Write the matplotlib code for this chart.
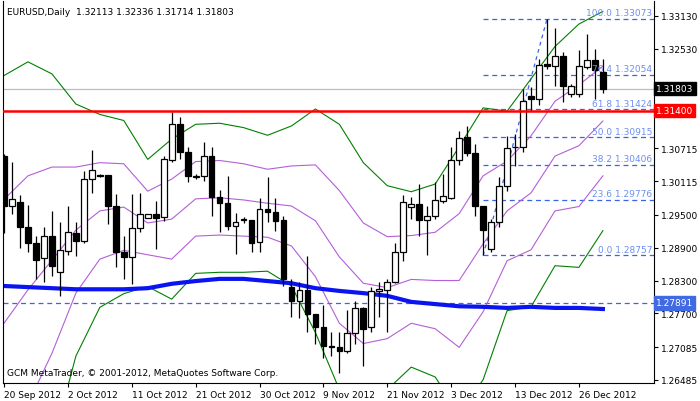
import matplotlib
matplotlib.use("Agg")
import matplotlib.pyplot as plt
import matplotlib.transforms as mtransforms
import numpy as np

# daily OHLC, 20 Sep 2012 .. 31 Dec 2012
opens  = [1.3057,1.2966,1.2973,1.2928,1.2898,1.2871,1.2911,1.2846,1.2884,1.2917,
          1.2902,1.3015,1.3023,1.3023,1.2966,1.2882,1.2873,1.2926,1.2944,1.2951,
          1.2946,1.3050,1.3116,1.3065,1.3019,1.3021,1.3057,1.2983,1.2972,1.2930,
          1.2941,1.2941,1.2900,1.2961,1.2955,1.2941,1.2818,1.2793,1.2813,1.2769,
          1.2745,1.2710,1.2709,1.2701,1.2734,1.2780,1.2745,1.2811,1.2813,1.2827,
          1.2882,1.2964,1.2970,1.2941,1.2948,1.2975,1.2981,1.3050,1.3092,1.3063,
          1.2966,1.2888,1.2937,1.3003,1.3074,1.3074,1.3167,1.3161,1.3225,1.3222,
          1.3240,1.3171,1.3171,1.3220,1.3233,1.32113]
highs  = [1.3061,1.3046,1.2986,1.2968,1.2911,1.2928,1.2957,1.2937,1.2966,1.2937,
          1.3030,1.3068,1.3024,1.3023,1.2988,1.2911,1.2988,1.2990,1.2951,1.2975,
          1.3057,1.3138,1.3129,1.3074,1.3024,1.3083,1.3074,1.2995,1.3021,1.2953,
          1.2946,1.2941,1.2981,1.3019,1.2981,1.2948,1.2833,1.2827,1.2875,1.2769,
          1.2785,1.2736,1.2736,1.2776,1.2793,1.2782,1.2818,1.2827,1.2833,1.2898,
          1.2986,1.2983,1.3006,1.2966,1.3010,1.3024,1.3074,1.3103,1.3112,1.3079,
          1.2966,1.2942,1.3019,1.3094,1.3098,1.3180,1.3183,1.3234,1.3307,1.3291,
          1.3247,1.3189,1.3251,1.3280,1.3253,1.32336]
lows   = [1.2917,1.2951,1.2889,1.2882,1.2833,1.2827,1.2838,1.2802,1.2877,1.2875,
          1.2898,1.2990,1.3019,1.2933,1.2855,1.2833,1.2824,1.2919,1.2944,1.2888,
          1.2939,1.3046,1.3052,1.3010,1.3015,1.3012,1.2948,1.2919,1.2922,1.2878,
          1.2935,1.2882,1.2882,1.2937,1.2920,1.2820,1.2763,1.2761,1.2736,1.2714,
          1.2689,1.2692,1.2661,1.2698,1.2714,1.2674,1.2736,1.2763,1.2736,1.2825,
          1.2866,1.2942,1.2911,1.2877,1.2942,1.2972,1.2979,1.3041,1.3057,1.2948,
          1.2877,1.2882,1.2928,1.2993,1.3039,1.3065,1.3140,1.3150,1.3216,1.3185,
          1.3156,1.3165,1.3165,1.3216,1.3161,1.31714]
closes = [1.2966,1.2979,1.2928,1.2898,1.2867,1.2911,1.2856,1.2886,1.2919,1.2902,
          1.3015,1.3032,1.3021,1.2966,1.2882,1.2873,1.2926,1.2951,1.2951,1.2944,
          1.3052,1.3116,1.3065,1.3021,1.3019,1.3057,1.2983,1.2972,1.2930,1.2937,
          1.2941,1.2898,1.2961,1.2955,1.2939,1.2833,1.2793,1.2813,1.2769,1.2745,
          1.2710,1.2709,1.2701,1.2734,1.2780,1.2741,1.2811,1.2814,1.2827,1.2882,
          1.2973,1.2970,1.2941,1.2948,1.2977,1.2984,1.3050,1.3090,1.3063,1.2966,
          1.2922,1.2937,1.3003,1.3072,1.3073,1.3158,1.3161,1.3224,1.3222,1.3240,
          1.3185,1.3185,1.3222,1.3233,1.3214,1.31803]

# indicator lines read every 3 bars
line_idx = list(range(0, 76, 3))
bb_mid = [1.2752,1.2813,1.2867,1.2922,1.2957,1.2964,1.2935,1.2942,1.2979,1.2981,
          1.2977,1.2971,1.2966,1.2939,1.2873,1.2825,1.2817,1.2832,1.2830,1.2830,
          1.2897,1.2957,1.2990,1.3057,1.3076,1.3121]
bb_dev = [0.0226,0.0208,0.0170,0.0115,0.0088,0.0079,0.0058,0.0073,0.0068,0.0068,
          0.0066,0.0062,0.0073,0.0102,0.0121,0.0110,0.0093,0.0080,0.0088,0.0122,
          0.0124,0.0091,0.0104,0.0100,0.0111,0.0100]
ma_slow = [1.2820,1.2818,1.2816,1.2814,1.2814,1.2814,1.2816,1.2824,1.2829,1.2833,
           1.2833,1.2829,1.2825,1.2816,1.2811,1.2807,1.2802,1.2791,1.2787,1.2783,
           1.2782,1.2780,1.2782,1.2780,1.2780,1.2778]

date_labels = ["20 Sep 2012","2 Oct 2012","11 Oct 2012","21 Oct 2012","30 Oct 2012",
               "9 Nov 2012","21 Nov 2012","3 Dec 2012","13 Dec 2012","26 Dec 2012"]
price_ticks = [1.33130,1.32530,1.30715,1.30115,1.29500,1.28900,
               1.28300,1.27700,1.27085,1.26485]
fib_pct = ["0.0","23.6","38.2","50.0","61.8","76.4","100.0"]
fib_val = [1.28757,1.29776,1.30406,1.30915,1.31424,1.32054,1.33073]

FS = 6.5
blue = "#3c64e6"
fig = plt.figure(figsize=(7, 4.02), dpi=100)
ax = fig.add_axes([3/700, 18/402, 651/700, 382/402])
n = len(opens)
x = np.arange(n)
o = np.array(opens); c = np.array(closes)

ax.vlines(x, lows, highs, color="black", lw=0.9, zorder=3)
up = c >= o
body = np.abs(c - o)
body = np.where(body < 0.00012, 0.00012, body)
ax.bar(x[up], body[up], bottom=o[up], width=0.72, color="white",
       edgecolor="black", lw=0.9, zorder=4)
ax.bar(x[~up], body[~up], bottom=c[~up], width=0.72, color="black",
       edgecolor="black", lw=0.9, zorder=4)

mid = np.array(bb_mid); dev = np.array(bb_dev)
ax.plot(line_idx, mid + 2*dev, color="green", lw=0.8, zorder=2)
ax.plot(line_idx, mid - 2*dev, color="green", lw=0.8, zorder=2)
for k in (-1, 0, 1):
    ax.plot(line_idx, mid + k*dev, color="#b45fd8", lw=0.8, zorder=2)
ax.plot(line_idx, ma_slow, color="#0a14f0", lw=3, zorder=2)

ax.axhline(1.31400, color="red", lw=1.8, zorder=5)
ax.axhline(1.31803, color="#bdbdbd", lw=0.9, zorder=1)
ax.axhline(1.27891, color=blue, lw=0.9, ls=(0, (4, 3)), zorder=1)

x0, x1 = -0.125, 81.4
for p, v in zip(fib_pct, fib_val):
    ax.hlines(v, 60, x1, color=blue, lw=0.9, ls=(0, (4, 3)), zorder=1)
    ax.text(x1 - 0.2, v + 0.0003, f"{p} {v:.5f}", color="#6d8ff0", fontsize=FS,
            ha="right", va="bottom", zorder=6)
ax.plot([60, 68], [fib_val[0], fib_val[-1]], color=blue, lw=0.9, ls=(0, (3, 3)), zorder=1)

ax.set_xlim(x0, x1)
ax.set_ylim(1.2643, 1.3340)
ax.yaxis.tick_right()
ax.set_yticks(price_ticks)
ax.set_yticklabels([f"{v:.5f}" for v in price_ticks], fontsize=FS)
ax.set_xticks(range(0, 80, 8))
ax.set_xticklabels(date_labels, fontsize=FS, ha="left")
ax.tick_params(length=3, width=0.8, pad=2)
ax.spines["top"].set_visible(False)

tr = mtransforms.blended_transform_factory(ax.transAxes, ax.transData)
for v, col in ((1.31400, "red"), (1.31803, "black"), (1.27891, "#4169e1")):
    ax.text(1.003, v, f"{v:.5f}", transform=tr, fontsize=FS, color="white",
            va="center", ha="left", zorder=7,
            bbox=dict(boxstyle="square,pad=0.25", fc=col, ec=col))

ax.text(0.006, 0.985, "EURUSD,Daily  1.32113 1.32336 1.31714 1.31803",
        transform=ax.transAxes, fontsize=FS, va="top")
ax.text(0.006, 0.015, "GCM MetaTrader, © 2001-2012, MetaQuotes Software Corp.",
        transform=ax.transAxes, fontsize=FS, va="bottom")

fig.savefig("out.png", dpi=100)
